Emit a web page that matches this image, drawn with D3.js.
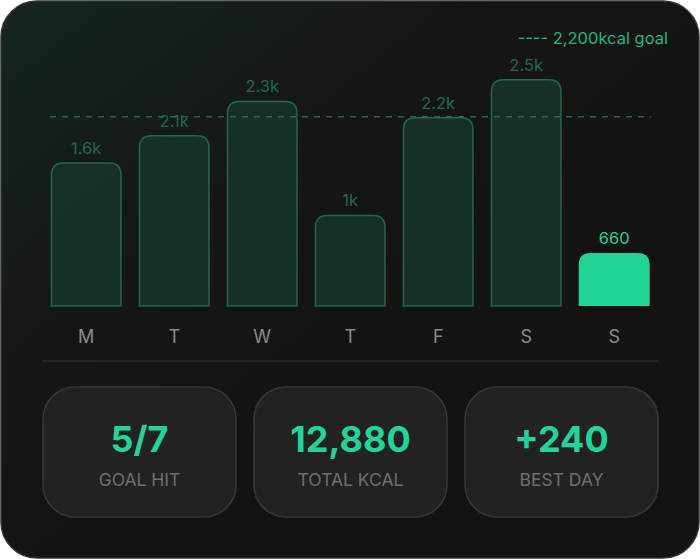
<!DOCTYPE html>
<html><head><meta charset="utf-8">
<script src="https://cdn.jsdelivr.net/npm/d3@7/dist/d3.min.js"></script>
<style>html,body{margin:0;padding:0;background:#fff;}svg{display:block;font-family:Inter,"Noto Sans",sans-serif;}</style>
</head><body>
<svg id="c" width="700" height="559"></svg>
<script>
const days = ["M","T","W","T","F","S","S"];
const values = [1580, 1880, 2260, 1000, 2080, 2500, 585];
const valueLabels = ["1.6k","2.1k","2.3k","1k","2.2k","2.5k","660"];
const goal = 2200;
const goalLabel = "---- 2,200kcal goal";
const statValues = ["5/7","12,880","+240"];
const statLabels = ["GOAL HIT","TOTAL KCAL","BEST DAY"];

const svg = d3.select("#c");
const defs = svg.append("defs");
const g = defs.append("linearGradient").attr("id","bg").attr("x1","0").attr("y1","0").attr("x2","0.6").attr("y2","0.6");
g.append("stop").attr("offset","0").attr("stop-color","#142720");
g.append("stop").attr("offset","0.55").attr("stop-color","#161616");
g.append("stop").attr("offset","1").attr("stop-color","#131313");
svg.append("rect").attr("x",1).attr("y",1).attr("width",698).attr("height",557).attr("rx",36)
  .attr("fill","url(#bg)").attr("stroke","#333").attr("stroke-width",1.5);

const x = d3.scaleBand().domain(d3.range(days.length)).range([50.7,649.7]).paddingInner(0.193).paddingOuter(0);
const y = d3.scaleLinear().domain([0,2500]).range([306,79.7]);

function topRounded(x0,y0,w,h,r){
  return `M${x0},${y0+h}V${y0+r}Q${x0},${y0} ${x0+r},${y0}H${x0+w-r}Q${x0+w},${y0} ${x0+w},${y0+r}V${y0+h}Z`;
}
const last = values.length-1;
svg.append("g").selectAll("path").data(values).join("path")
  .attr("d",(d,i)=> i===last ? topRounded(x(i),y(d),x.bandwidth(),y(0)-y(d),12)
                             : topRounded(x(i)+0.75,y(d),x.bandwidth()-1.5,y(0)-y(d),12))
  .attr("fill",(d,i)=> i===last ? "#22d39a" : "#18352a")
  .attr("fill-opacity",(d,i)=> i===last?1:0.85)
  .attr("stroke",(d,i)=> i===last ? "none" : "#1f6a4b")
  .attr("stroke-width",1.5);

svg.append("line").attr("x1",50).attr("x2",651).attr("y1",116.7).attr("y2",116.7)
  .attr("stroke","#1f6a4b").attr("stroke-width",1.5).attr("stroke-dasharray","6,6");

svg.append("g").selectAll("text").data(values).join("text")
  .attr("x",(d,i)=>x(i)+x.bandwidth()/2).attr("y",d=>y(d)-9)
  .attr("text-anchor","middle").attr("font-size",16.5)
  .attr("fill",(d,i)=> i===last ? "#22d39a" : "#1f6a4b")
  .text((d,i)=>valueLabels[i]);

svg.append("text").attr("x",668).attr("y",44).attr("text-anchor","end").attr("font-size",16.5)
  .attr("fill","#22b585").text(goalLabel);

const ax = svg.append("g").attr("transform","translate(0,306)")
  .call(d3.axisBottom(x).tickFormat(i=>days[i]).tickSize(0).tickPadding(24));
ax.select(".domain").remove();
ax.selectAll("text").attr("font-size",18).attr("fill","#8a8a8a").attr("font-family","Inter,'Noto Sans',sans-serif");

svg.append("line").attr("x1",42).attr("x2",658).attr("y1",361).attr("y2",361).attr("stroke","#2a2a2a").attr("stroke-width",1.5);

const cx = [43,254,465];
const cards = svg.append("g").selectAll("g").data(statValues).join("g")
  .attr("transform",(d,i)=>`translate(${cx[i]},387)`);
cards.append("rect").attr("width",193).attr("height",130).attr("rx",32)
  .attr("fill","#222").attr("stroke","#383838").attr("stroke-width",1.5);
cards.append("text").attr("x",96.5).attr("y",65).attr("text-anchor","middle")
  .attr("font-size",36).attr("font-weight",700).attr("fill","#22d39a").text(d=>d);
cards.append("text").attr("x",96.5).attr("y",99).attr("text-anchor","middle")
  .attr("font-size",17.5).attr("fill","#6f6f6f").text((d,i)=>statLabels[i]);
</script>
</body></html>
